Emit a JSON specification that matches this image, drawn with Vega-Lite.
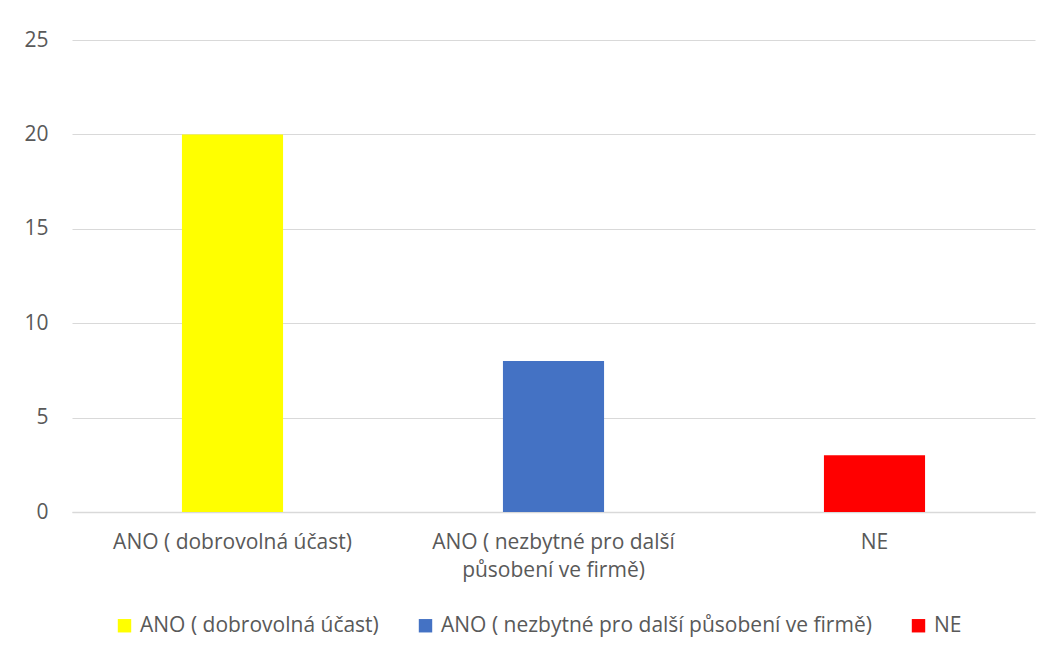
{
  "$schema": "https://vega.github.io/schema/vega-lite/v6.json",
  "width": 963,
  "height": 472,
  "autosize": {"type": "none"},
  "padding": {"left": 72, "top": 40, "right": 19, "bottom": 147},
  "background": "white",
  "config": {
    "view": {"stroke": null},
    "font": "Open Sans"
  },
  "data": {
    "values": [
      {"kategorie": "ANO ( dobrovolná účast)", "pocet": 20},
      {"kategorie": "ANO ( nezbytné pro další působení ve firmě)", "pocet": 8},
      {"kategorie": "NE", "pocet": 3}
    ]
  },
  "mark": {"type": "bar"},
  "encoding": {
    "x": {
      "field": "kategorie",
      "type": "nominal",
      "sort": null,
      "scale": {"paddingInner": 0.685, "paddingOuter": 0.3425},
      "axis": {
        "title": null,
        "labelAngle": 0,
        "labelFontSize": 21,
        "labelColor": "#595959",
        "labelPadding": 19,
        "labelLineHeight": 28,
        "labelLimit": 400,
        "ticks": false,
        "domainColor": "#d9d9d9",
        "domainWidth": 1.5,
        "labelExpr": "datum.label == 'ANO ( nezbytné pro další působení ve firmě)' ? ['ANO ( nezbytné pro další', 'působení ve firmě)'] : datum.label"
      }
    },
    "y": {
      "field": "pocet",
      "type": "quantitative",
      "scale": {"domain": [0, 25]},
      "axis": {
        "title": null,
        "values": [0, 5, 10, 15, 20, 25],
        "domain": false,
        "ticks": false,
        "labelFontSize": 21,
        "labelColor": "#595959",
        "labelPadding": 24,
        "gridColor": "#d9d9d9",
        "gridWidth": 1.2
      }
    },
    "color": {
      "field": "kategorie",
      "type": "nominal",
      "sort": null,
      "scale": {
        "domain": ["ANO ( dobrovolná účast)", "ANO ( nezbytné pro další působení ve firmě)", "NE"],
        "range": ["#ffff00", "#4472c4", "#ff0000"]
      },
      "legend": {
        "title": null,
        "orient": "none",
        "legendX": 42,
        "legendY": 575,
        "direction": "horizontal",
        "symbolType": "square",
        "symbolSize": 180,
        "symbolStrokeWidth": 0,
        "labelFontSize": 21,
        "labelColor": "#595959",
        "labelLimit": 500,
        "labelOffset": 5,
        "columnPadding": 36
      }
    }
  }
}
